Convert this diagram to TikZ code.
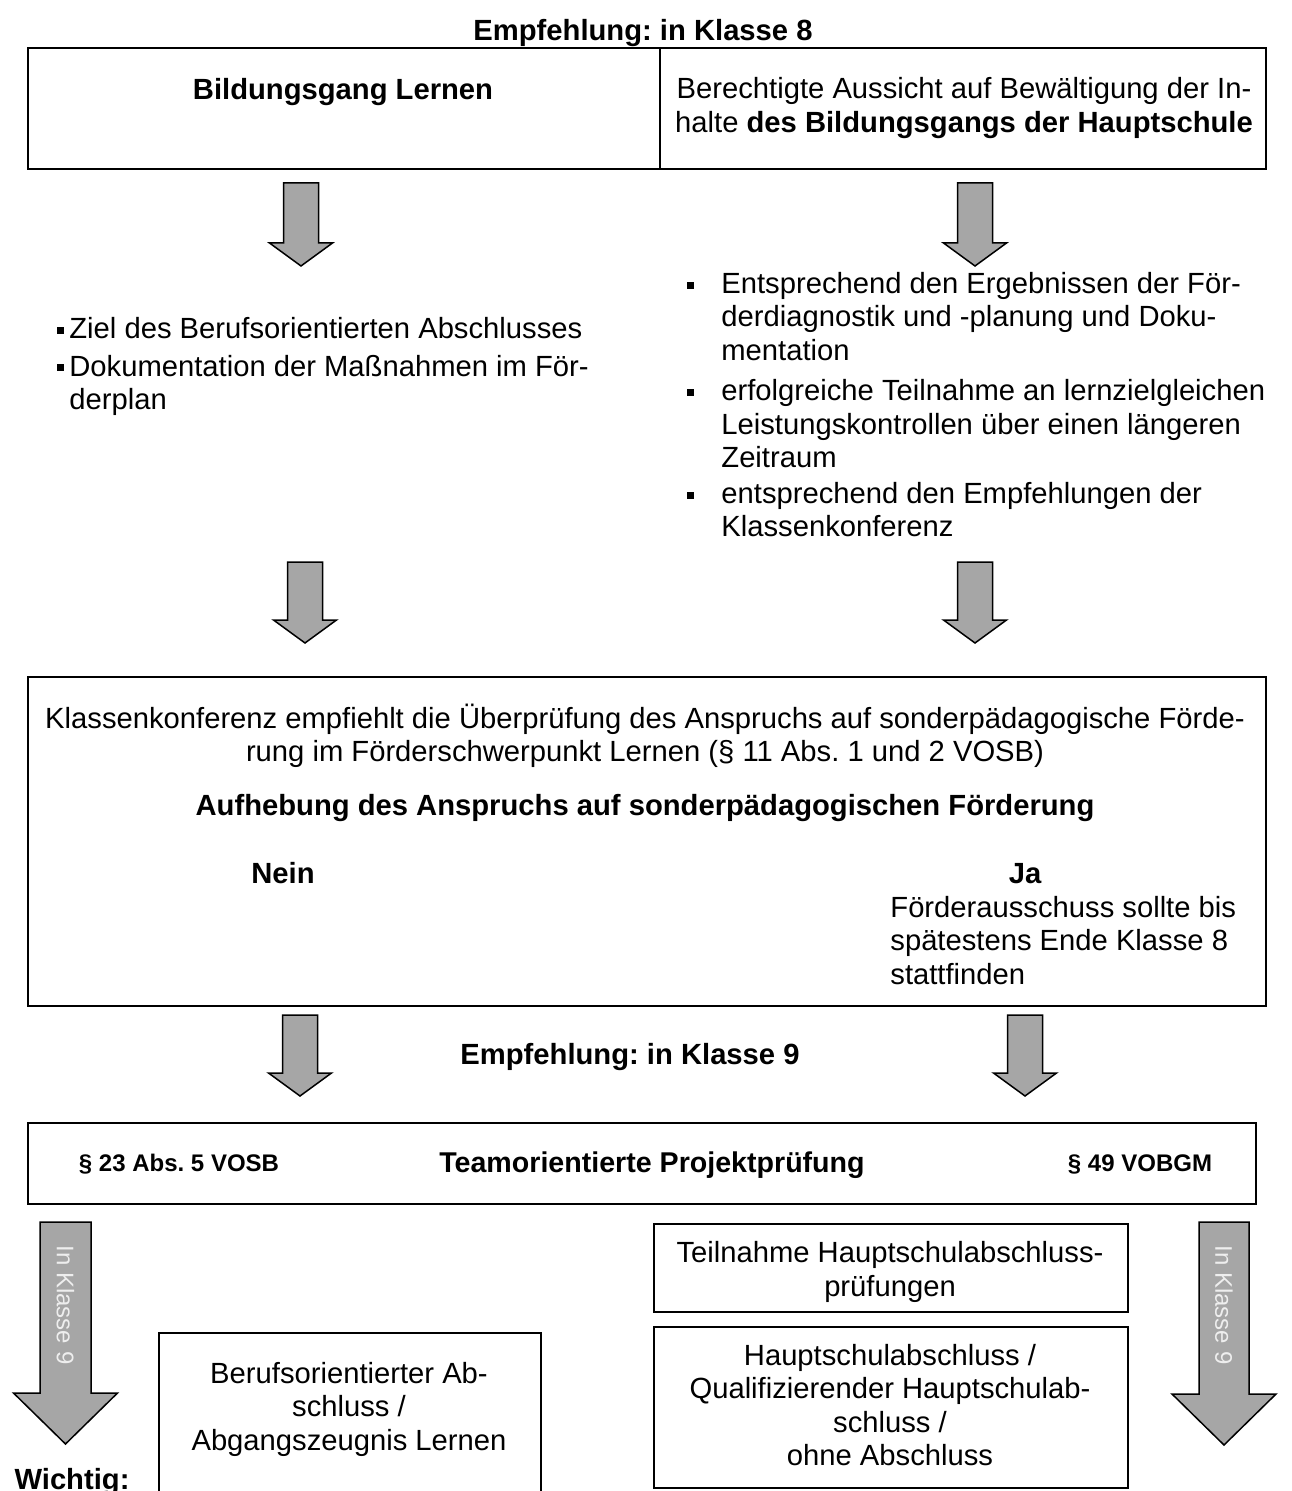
\documentclass[tikz,border=0pt]{standalone}
\usepackage{fontspec}
\setmainfont{Liberation Sans}
\frenchspacing
\definecolor{arrowgray}{HTML}{A6A6A6}
\definecolor{klgray}{HTML}{EEEEEE}
\newcommand\blockarrow[7]{% name, cx, top, shaft half, head half, head y, tip y
  \draw[arr] ({#2-#4},#3) -- ({#2+#4},#3) -- ({#2+#4},#6) -- ({#2+#5},#6) -- (#2,#7) -- ({#2-#5},#6) -- ({#2-#4},#6) -- cycle;
  \coordinate (#1) at (#2,#7);}
\newcommand\sqbullet[3]{\fill (#2-3.5,#3-3.5) rectangle (#2+3.5,#3+3.5); \coordinate (#1) at (#2,#3);}
\begin{document}
\begin{tikzpicture}[x=0.5pt,y=-0.5pt,
  box/.style={draw, line width=1pt, rectangle, inner sep=0pt},
  txt/.style={inner sep=0pt, font=\fontsize{14.6pt}{16.75pt}\selectfont},
  btxt/.style={inner sep=0pt, font=\fontsize{14.6pt}{16.75pt}\selectfont\bfseries},
  stxt/.style={inner sep=0pt, font=\fontsize{12pt}{14pt}\selectfont\bfseries},
  arr/.style={draw=black, line width=0.75pt, fill=arrowgray, line join=miter},
  kl/.style={inner sep=0pt, rotate=-90, text=klgray, font=\fontsize{12pt}{14pt}\selectfont}]
\useasboundingbox (0,0) rectangle (1291,1491);
\clip (0,0) rectangle (1291,1491);

% title
\node[btxt, anchor=base] (t8) at (643,41) {Empfehlung: in Klasse 8};

% top boxes
\node[box, anchor=north west, minimum width=316pt, minimum height=60.5pt] (boxL) at (27,47) {};
\node[box, anchor=north west, minimum width=303pt, minimum height=60.5pt] (boxR) at (659,47) {};
\node[btxt, anchor=base] (bl) at (343,100) {Bildungsgang Lernen};
\node[txt, anchor=center, align=center] (bh) at (964,108) {Berechtigte Aussicht auf Bewältigung der In-\\halte \textbf{des Bildungsgangs der Hauptschule}};

% row 1 arrows
\blockarrow{a1}{301}{183}{17.5}{31.5}{243}{266}
\blockarrow{a2}{975}{183}{17.5}{31.5}{243}{266}

% left bullets
\sqbullet{b1}{60}{331}
\node[txt, anchor=base west] (l1) at (69,339) {Ziel des Berufsorientierten Abschlusses};
\sqbullet{b2}{60}{368}
\node[txt, anchor=base west, align=left] (l2) at (69,410) {Dokumentation der Maßnahmen im För-\\derplan};

% right bullets (base = last line)
\sqbullet{r1b}{690}{286}
\node[txt, anchor=base west, align=left] (r1) at (721,360.5) {Entsprechend den Ergebnissen der För-\\derdiagnostik und -planung und Doku-\\mentation};
\sqbullet{r2b}{690}{393}
\node[txt, anchor=base west, align=left] (r2) at (721,467.5) {erfolgreiche Teilnahme an lernzielgleichen\\Leistungskontrollen über einen längeren\\Zeitraum};
\sqbullet{r3b}{690}{496}
\node[txt, anchor=base west, align=left] (r3) at (721,537) {entsprechend den Empfehlungen der\\Klassenkonferenz};

% row 2 arrows
\blockarrow{a3}{305}{562}{17.5}{31.5}{620}{643}
\blockarrow{a4}{975}{562}{17.5}{31.5}{620}{643}

% big box
\node[box, anchor=north west, minimum width=619pt, minimum height=164.5pt] (kk) at (27,676) {};
\node[txt, anchor=center, align=center] (kt) at (645,736) {Klassenkonferenz empfiehlt die Überprüfung des Anspruchs auf sonderpädagogische Förde-\\rung im Förderschwerpunkt Lernen (§ 11 Abs. 1 und 2 VOSB)};
\node[btxt, anchor=base] (auf) at (645,815) {Aufhebung des Anspruchs auf sonderpädagogischen Förderung};
\node[btxt, anchor=base] (nein) at (283,883) {Nein};
\node[btxt, anchor=base] (ja) at (1025,883) {Ja};
\node[txt, anchor=base west, align=left] (fa) at (890,984) {Förderausschuss sollte bis\\spätestens Ende Klasse 8\\stattfinden};

% row 3 arrows
\blockarrow{a5}{300}{1015}{17.5}{31.5}{1073}{1096}
\blockarrow{a6}{1025}{1015}{17.5}{31.5}{1073}{1096}
\node[btxt, anchor=base] (t9) at (630,1064) {Empfehlung: in Klasse 9};

% team box
\node[box, anchor=north west, minimum width=614pt, minimum height=40.5pt] (team) at (27,1122) {};
\node[stxt, anchor=base] (p23) at (179,1171) {§ 23 Abs. 5 VOSB};
\node[inner sep=0pt, font=\fontsize{14.3pt}{16pt}\selectfont\bfseries, anchor=base] (tp) at (652,1172) {Teamorientierte Projektprüfung};
\node[stxt, anchor=base] (p49) at (1140,1171) {§ 49 VOBGM};

% big arrows
\blockarrow{bA}{65.5}{1222}{25.5}{52}{1393}{1444}
\node[kl] (k1) at (65.5,1305) {In Klasse 9};
\blockarrow{bB}{1224}{1222}{25}{52}{1394}{1445}
\node[kl] (k2) at (1224,1305) {In Klasse 9};

% bottom boxes
\node[box, anchor=north west, minimum width=191pt, minimum height=100pt] (bo) at (158,1332) {};
\node[txt, align=center] (bot) at (349,1409) {Berufsorientierter Ab-\\schluss /\\Abgangszeugnis Lernen};
\node[btxt, anchor=base] (wi) at (72,1489) {Wichtig:};

\node[box, anchor=north west, minimum width=237pt, minimum height=44pt] (tn) at (653,1223) {};
\node[txt, align=center] (tnt) at (890,1272) {Teilnahme Hauptschulabschluss-\\prüfungen};
\node[box, anchor=north west, minimum width=237pt, minimum height=80.5pt] (hs) at (653,1326) {};
\node[txt, align=center] (hst) at (890,1405) {Hauptschulabschluss /\\Qualifizierender Hauptschulab-\\schluss /\\ohne Abschluss};
\end{tikzpicture}
\end{document}
